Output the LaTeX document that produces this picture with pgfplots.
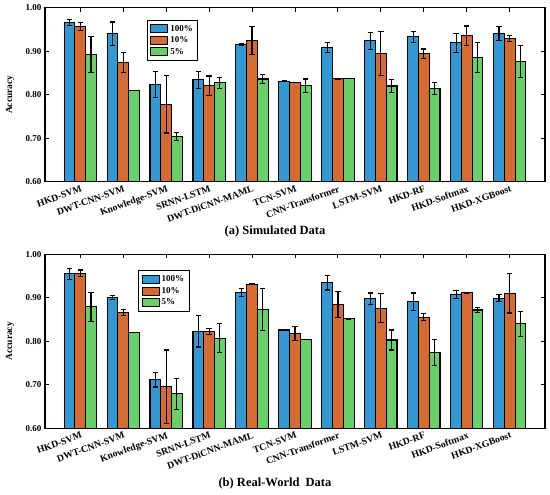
\documentclass[border=0pt]{standalone}
\usepackage{pgfplots}
\pgfplotsset{compat=1.18}
\usepackage{pgfplotstable}
\usepackage{fontspec}
\setmainfont{Liberation Serif}
\definecolor{cb}{RGB}{50,152,212}
\definecolor{co}{RGB}{214,106,48}
\definecolor{cg}{RGB}{104,208,104}

\pgfplotstableread{
i b be o oe g ge
0 0.966 0.006 0.956 0.009 0.893 0.041
1 0.940 0.027 0.874 0.022 0.809 0.000
2 0.823 0.030 0.778 0.066 0.704 0.010
3 0.834 0.019 0.821 0.022 0.827 0.013
4 0.916 0.002 0.924 0.032 0.836 0.010
5 0.831 0.001 0.827 0.000 0.821 0.015
6 0.908 0.011 0.837 0.001 0.837 0.000
7 0.924 0.020 0.895 0.050 0.820 0.014
8 0.933 0.012 0.894 0.011 0.814 0.013
9 0.919 0.021 0.936 0.022 0.885 0.034
10 0.940 0.016 0.929 0.007 0.877 0.037
}\simdata

\pgfplotstableread{
i b be o oe g ge
0 0.955 0.013 0.956 0.008 0.879 0.034
1 0.901 0.004 0.866 0.007 0.821 0.000
2 0.712 0.017 0.696 0.084 0.679 0.036
3 0.823 0.036 0.823 0.007 0.807 0.033
4 0.912 0.009 0.931 0.001 0.873 0.049
5 0.826 0.001 0.817 0.016 0.805 0.000
6 0.935 0.017 0.885 0.030 0.852 0.001
7 0.898 0.013 0.876 0.033 0.803 0.023
8 0.891 0.020 0.855 0.008 0.775 0.030
9 0.908 0.009 0.912 0.001 0.872 0.005
10 0.899 0.008 0.910 0.045 0.840 0.029
}\realdata

\pgfplotsset{
  accstyle/.style={
    width=500pt, height=174pt, scale only axis,
    xmin=-0.82, xmax=10.82, ymin=0.6, ymax=1.0,
    xtick={0,...,10},
    xticklabels={HKD-SVM,DWT-CNN-SVM,Knowledge-SVM,SRNN-LSTM,DWT-DiCNN-MAML,TCN-SVM,CNN-Transformer,LSTM-SVM,HKD-RF,HKD-Softmax,HKD-XGBoost},
    ytick={0.6,0.7,0.8,0.9,1.0},
    /pgf/number format/assume math mode=true,
    yticklabel style={/pgf/number format/fixed, /pgf/number format/fixed zerofill, /pgf/number format/precision=2, font=\bfseries\fontsize{9}{10}\selectfont},
    x tick label style={font=\bfseries\fontsize{9.7}{10}\selectfont, rotate=20, anchor=north east, inner sep=1pt, yshift=-2pt},
    tick align=inside, major tick length=4pt,
    tick style={black, line width=1pt},
    axis line style={line width=1.1pt},
    ylabel={Accuracy},
    ylabel style={font=\bfseries\fontsize{9.5}{11}\selectfont, at={(axis description cs:-0.07,0.5)}, anchor=center},
    legend style={draw=black, line width=1pt, font=\bfseries\fontsize{9}{10}\selectfont,
      row sep=0pt, inner xsep=3pt, inner ysep=3pt, cells={anchor=west}},
  },
  barb/.style={ybar, bar width=0.25, bar shift=0pt, draw=black, line width=1.1pt, fill=#1,
    legend image code/.code={\draw[fill=#1, draw=black, line width=1pt] (0pt,-4pt) rectangle (17pt,4pt);},
    error bars/y dir=both, error bars/y explicit,
    error bars/error bar style={line width=1.1pt, black},
    error bars/error mark options={rotate=90, mark size=2.6pt, line width=1.1pt, black}},
}

\begin{document}
\begin{tikzpicture}
\useasboundingbox (0,0) rectangle (550pt,495pt);
\begin{axis}[accstyle, at={(45pt,313.3pt)}, anchor=south west,
  legend style={at={(0.204,0.931)}, anchor=north west}]
\addplot[barb=cb] table[x expr=\thisrow{i}-0.25, y=b, y error=be]{\simdata};
\addplot[barb=co] table[x expr=\thisrow{i}, y=o, y error=oe]{\simdata};
\addplot[barb=cg] table[x expr=\thisrow{i}+0.25, y=g, y error=ge]{\simdata};
\legend{100\%,10\%,5\%}
\end{axis}
\node[font=\bfseries\fontsize{12.5}{14}\selectfont] at (275pt,263pt) {(a) Simulated Data};
\begin{axis}[accstyle, at={(45pt,66.7pt)}, anchor=south west,
  legend style={at={(0.186,0.908)}, anchor=north west}]
\addplot[barb=cb] table[x expr=\thisrow{i}-0.25, y=b, y error=be]{\realdata};
\addplot[barb=co] table[x expr=\thisrow{i}, y=o, y error=oe]{\realdata};
\addplot[barb=cg] table[x expr=\thisrow{i}+0.25, y=g, y error=ge]{\realdata};
\legend{100\%,10\%,5\%}
\end{axis}
\node[font=\bfseries\fontsize{12.5}{14}\selectfont] at (275pt,12pt) {(b) Real-World\ \ Data};
\end{tikzpicture}
\end{document}
